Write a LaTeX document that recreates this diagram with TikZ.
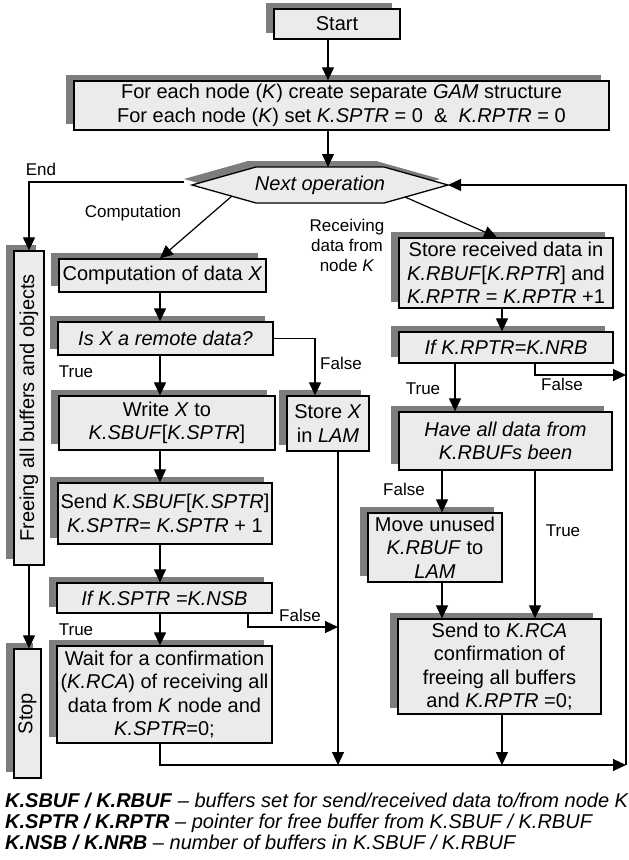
\documentclass[tikz,border=0pt]{standalone}
\usepackage{fontspec}
\setmainfont{Liberation Sans}
\usepackage{graphicx}
\usetikzlibrary{arrows.meta,shadows}
\definecolor{boxfill}{RGB}{235,235,235}
\definecolor{shade}{RGB}{125,125,125}
\newcommand{\boxfont}{\fontsize{20}{23.5}\selectfont}
\newcommand{\lblfont}{\fontsize{17}{20}\selectfont}
\begin{document}
\begin{tikzpicture}[x=1pt,y=-1pt,
  stepbox/.style={draw, line width=1.3pt, fill=boxfill, align=center, inner sep=1pt, font=\boxfont,
    drop shadow={shadow xshift=-8pt, shadow yshift=6pt, fill=shade, opacity=1}},
  arr/.style={line width=1.2pt, -{Triangle[length=13pt,width=12pt]}},
  lbl/.style={font=\lblfont, inner sep=0pt},
  note/.style={font=\boxfont, inner sep=0pt, anchor=base west}]

\useasboundingbox (0,0) rectangle (629,860);

% ---- process boxes ----
\node[stepbox, minimum width=126pt, minimum height=30pt] (start) at (337,24) {Start};
\node[stepbox, minimum width=535pt, minimum height=49pt] (init) at (341.5,105.5)
  {For each node (\textit{K}) create separate \textit{GAM} structure\\
   For each node (\textit{K}) set \textit{K.SPTR} = 0 \ \&\ \ \textit{K.RPTR} = 0};

\node[stepbox, minimum width=30pt, minimum height=314pt] (free) at (29,408)
  {\rotatebox{90}{Freeing all buffers and objects}};
\node[stepbox, minimum width=27pt, minimum height=129pt] (stop) at (27.5,713.5)
  {\rotatebox{90}{Stop}};

% left branch: computation
\node[stepbox, minimum width=207pt, minimum height=33pt] (comp) at (162.5,275.5)
  {Computation of data \textit{X}};
\node[stepbox, minimum width=215pt, minimum height=33pt] (isx) at (165.5,338.5)
  {\textit{Is X a remote data?}};
\node[stepbox, minimum width=216pt, minimum height=54pt] (write) at (167,423)
  {Write \textit{X} to\\\textit{K.SBUF}[\textit{K.SPTR}]};
\node[stepbox, minimum width=82pt, minimum height=55pt] (storex) at (328,423.5)
  {Store \textit{X}\\in \textit{LAM}};
\node[stepbox, minimum width=214pt, minimum height=61pt] (sendx) at (165,513.5)
  {Send \textit{K.SBUF}[\textit{K.SPTR}]\\\textit{K.SPTR}= \textit{K.SPTR} + 1};
\node[stepbox, minimum width=215pt, minimum height=30pt] (ifs) at (164.5,598)
  {\textit{If K.SPTR =K.NSB}};
\node[stepbox, minimum width=215pt, minimum height=97pt] (wait) at (164.5,694.5)
  {Wait for a confirmation\\(\textit{K.RCA}) of receiving all\\data from \textit{K} node and\\\textit{K.SPTR}=0;};

% right branch: receiving
\node[stepbox, minimum width=214pt, minimum height=70pt] (storer) at (506,273)
  {Store received data in\\\textit{K.RBUF}[\textit{K.RPTR}] and\\\textit{K.RPTR} = \textit{K.RPTR} +1};
\node[stepbox, minimum width=214pt, minimum height=31pt] (ifr) at (506,347.5)
  {\textit{If K.RPTR=K.NRB}};
\node[stepbox, minimum width=213pt, minimum height=58pt] (have) at (505.5,441)
  {\textit{Have all data from}\\\textit{K.RBUFs been}};
\node[stepbox, minimum width=134pt, minimum height=69pt] (move) at (435,547.5)
  {Move unused\\\textit{K.RBUF} to\\\textit{LAM}};
\node[stepbox, minimum width=203pt, minimum height=95pt] (sendr) at (499.5,666.5)
  {Send to \textit{K.RCA}\\confirmation of\\freeing all buffers\\and \textit{K.RPTR} =0;};

% ---- decision hexagon ----
\path[fill=shade] (184,179) -- (248,161) -- (376,161) -- (440,179) -- (376,197) -- (248,197) -- cycle;
\draw[line width=1.3pt, fill=boxfill] (192,185) -- (256,167) -- (384,167) -- (448,185) -- (384,203) -- (256,203) -- cycle;
\node[font=\boxfont, inner sep=0pt] (hex) at (320,185) {\textit{Next operation}};
\coordinate (hexN) at (328,167);
\coordinate (hexE) at (448,185);
\coordinate (hexSW) at (232,196);
\coordinate (hexSE) at (405,197);
\coordinate (hexEnd) at (184,182);

% ---- junction points ----
\coordinate (joinL) at (338,627);
\coordinate (joinR) at (626,375);
\coordinate (busL) at (338,765);
\coordinate (busM) at (502,765);
\coordinate (busR) at (626,765);
\coordinate (loopTR) at (626,185);

% ---- connectors ----
\draw[arr] (start.south -| 328,0) -- (init.north -| 328,0);
\draw[arr] (init.south -| 328,0) -- (hexN);
\draw[arr] (hexEnd) -| (free.north -| 29,0);
\draw[arr] (hexSW) -- (comp.north -| 160,0);
\draw[arr] (hexSE) -- (storer.north -| 497,0);
\draw[arr] (free.south -| 29,0) -- (stop.north -| 29,0);

\draw[arr] (comp.south -| 160,0) -- (isx.north -| 160,0);
\draw[arr] (isx.south -| 160,0) -- (write.north -| 160,0);
\draw[arr] (isx.east) -| (storex.north -| 315,0);
\draw[arr] (write.south -| 160,0) -- (sendx.north -| 160,0);
\draw[arr] (sendx.south -| 160,0) -- (ifs.north -| 160,0);
\draw[arr] (ifs.south -| 160,0) -- (wait.north -| 160,0);
\draw[arr] (ifs.south -| 248,0) |- (joinL);
\draw[arr] (storex.south -| 338,0) -- (busL);
\draw[arr] (wait.south -| 160,0) |- (busR);

\draw[arr] (storer.south -| 502,0) -- (ifr.north -| 502,0);
\draw[arr] (ifr.south -| 455,0) -- (have.north -| 455,0);
\draw[arr] (ifr.south -| 535,0) |- (joinR);
\draw[arr] (have.south -| 442,0) -- (move.north -| 442,0);
\draw[arr] (have.south -| 535,0) -- (sendr.north -| 535,0);
\draw[arr] (move.south -| 442,0) -- (sendr.north -| 442,0);
\draw[arr] (sendr.south -| 502,0) -- (busM);
\draw[arr] (busR) -- (loopTR) -- (hexE);

% ---- branch labels ----
\node[lbl] (lEnd) at (41,169) {End};
\node[lbl] (lComp) at (133,213) {Computation};
\node[lbl, align=center] (lRecv) at (347,245) {Receiving\\data from\\node \textit{K}};
\node[lbl] (lT1) at (76,372) {True};
\node[lbl] (lF1) at (341,363) {False};
\node[lbl] (lT2) at (423,389) {True};
\node[lbl] (lF2) at (562,384) {False};
\node[lbl] (lF3) at (404,489) {False};
\node[lbl] (lT3) at (563,531) {True};
\node[lbl] (lF4) at (300,615) {False};
\node[lbl] (lT4) at (76,630) {True};

% ---- legend ----
\node[note] (n1) at (5,807) {\textbf{\textit{K.SBUF / K.RBUF}} \textit{– buffers set for send/received data to/from node K}};
\node[note] (n2) at (5,828) {\textbf{\textit{K.SPTR / K.RPTR}} \textit{– pointer for free buffer from K.SBUF / K.RBUF}};
\node[note] (n3) at (5,849) {\textbf{\textit{K.NSB / K.NRB}} \textit{– number of buffers in K.SBUF / K.RBUF}};
\end{tikzpicture}
\end{document}
